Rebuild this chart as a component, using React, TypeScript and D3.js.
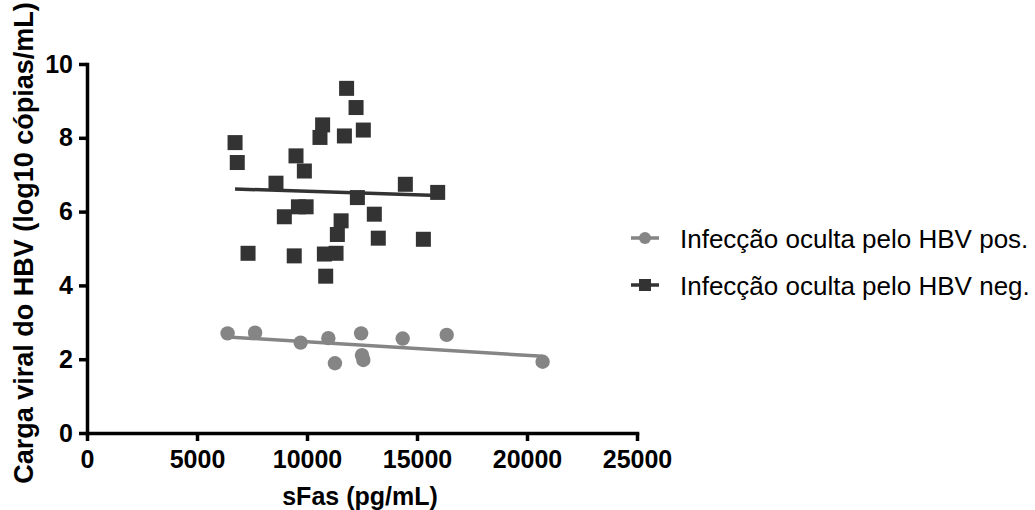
import * as d3 from "d3"
import { useEffect, useRef } from "react"

// sFas (pg/mL) vs carga viral (log10)
const posX = [6390, 7640, 9710, 10970, 12460, 14350, 16350, 11270, 12500, 12560, 20710]
const posY = [2.7, 2.72, 2.45, 2.57, 2.7, 2.56, 2.66, 1.89, 2.11, 1.98, 1.93]

const negX = [
  11800, 12230, 10710, 10590, 11700, 12560, 6730, 6830, 9500, 9880, 8590, 14470, 15940, 12290,
  9610, 9960, 8970, 13060, 11550, 11380, 13240, 15290, 7320, 9420, 10790, 11320, 10850,
]
const negY = [
  9.34, 8.82, 8.35, 8.01, 8.05, 8.21, 7.87, 7.33, 7.51, 7.1, 6.77, 6.74, 6.52, 6.38, 6.13, 6.13,
  5.86, 5.93, 5.75, 5.38, 5.28, 5.25, 4.87, 4.8, 4.85, 4.87, 4.25,
]

const xTicks = [0, 5000, 10000, 15000, 20000, 25000]
const yTicks = [0, 2, 4, 6, 8, 10]

const posLabel = "Infecção oculta pelo HBV pos."
const negLabel = "Infecção oculta pelo HBV neg."
const xTitle = "sFas (pg/mL)"
const yTitle = "Carga viral do HBV (log10 cópias/mL)"

const POS = "#858585"
const NEG = "#333333"
const FONT = "'Liberation Sans', Arial, sans-serif"

// least squares fit over the points' own x range
const fit = (xs: number[], ys: number[]) => {
  const mx = d3.mean(xs)!
  const my = d3.mean(ys)!
  const sxy = d3.sum(xs, (x, i) => (x - mx) * (ys[i] - my))
  const sxx = d3.sum(xs, (x) => (x - mx) ** 2)
  const b = sxy / sxx
  const a = my - b * mx
  const [x0, x1] = d3.extent(xs) as [number, number]
  return [
    [x0, a + b * x0],
    [x1, a + b * x1],
  ]
}

export default function App() {
  const ref = useRef<SVGSVGElement>(null)

  useEffect(() => {
    const svg = d3.select(ref.current)
    svg.selectAll("*").remove()

    const x = d3.scaleLinear().domain([0, 25000]).range([87, 637])
    const y = d3.scaleLinear().domain([0, 10]).range([433, 64])

    const styleAxis = (g: any) => {
      g.select(".domain").attr("stroke-width", 3.5).attr("stroke-linecap", "square")
      g.selectAll(".tick line").attr("stroke-width", 3.5)
      g.selectAll(".tick text")
        .attr("fill", "#000")
        .attr("font-family", FONT)
        .attr("font-weight", "bold")
        .attr("font-size", 25)
    }

    svg
      .append("g")
      .attr("transform", `translate(0,${y(0)})`)
      .call(d3.axisBottom(x).tickValues(xTicks).tickFormat(d3.format("d")).tickSizeInner(8).tickSizeOuter(0).tickPadding(9))
      .call(styleAxis)

    svg
      .append("g")
      .attr("transform", `translate(${x(0)},0)`)
      .call(d3.axisLeft(y).tickValues(yTicks).tickFormat(d3.format("d")).tickSizeInner(8).tickSizeOuter(0).tickPadding(6))
      .call(styleAxis)

    svg
      .append("text")
      .attr("transform", `translate(33,243) rotate(-90)`)
      .attr("text-anchor", "middle")
      .attr("font-family", FONT)
      .attr("font-weight", "bold")
      .attr("font-size", 27)
      .text(yTitle)

    svg
      .append("text")
      .attr("x", 360)
      .attr("y", 505)
      .attr("text-anchor", "middle")
      .attr("font-family", FONT)
      .attr("font-weight", "bold")
      .attr("font-size", 25)
      .text(xTitle)

    const line = d3
      .line<number[]>()
      .x((d) => x(d[0]))
      .y((d) => y(d[1]))

    svg
      .selectAll("rect.neg")
      .data(negX.map((v, i) => [v, negY[i]]))
      .join("rect")
      .attr("class", "neg")
      .attr("x", (d) => x(d[0]) - 7.5)
      .attr("y", (d) => y(d[1]) - 7.5)
      .attr("width", 15)
      .attr("height", 15)
      .attr("fill", NEG)

    svg
      .append("path")
      .attr("d", line(fit(negX, negY)))
      .attr("stroke", NEG)
      .attr("stroke-width", 3.5)
      .attr("fill", "none")

    svg
      .selectAll("circle.pos")
      .data(posX.map((v, i) => [v, posY[i]]))
      .join("circle")
      .attr("class", "pos")
      .attr("cx", (d) => x(d[0]))
      .attr("cy", (d) => y(d[1]))
      .attr("r", 7.2)
      .attr("fill", POS)

    svg
      .append("path")
      .attr("d", line(fit(posX, posY)))
      .attr("stroke", POS)
      .attr("stroke-width", 3.5)
      .attr("fill", "none")

    // legend
    const legend = [
      { label: posLabel, colour: POS, shape: "circle", cy: 238 },
      { label: negLabel, colour: NEG, shape: "square", cy: 285 },
    ]
    legend.forEach((l) => {
      const g = svg.append("g")
      g.append("line")
        .attr("x1", 631)
        .attr("x2", 659)
        .attr("y1", l.cy)
        .attr("y2", l.cy)
        .attr("stroke", l.colour)
        .attr("stroke-width", 3.5)
      if (l.shape === "circle") {
        g.append("circle").attr("cx", 645).attr("cy", l.cy).attr("r", 6).attr("fill", l.colour)
      } else {
        g.append("rect")
          .attr("x", 639)
          .attr("y", l.cy - 6)
          .attr("width", 12)
          .attr("height", 12)
          .attr("fill", l.colour)
      }
      g.append("text")
        .attr("x", 680)
        .attr("y", l.cy + 9.5)
        .attr("font-family", FONT)
        .attr("font-size", 26)
        .attr("fill", "#000")
        .text(l.label)
    })
  }, [])

  return (
    <svg
      ref={ref}
      width={1035}
      height={510}
      style={{ position: "absolute", left: 0, top: 0, background: "#fff" }}
    />
  )
}
